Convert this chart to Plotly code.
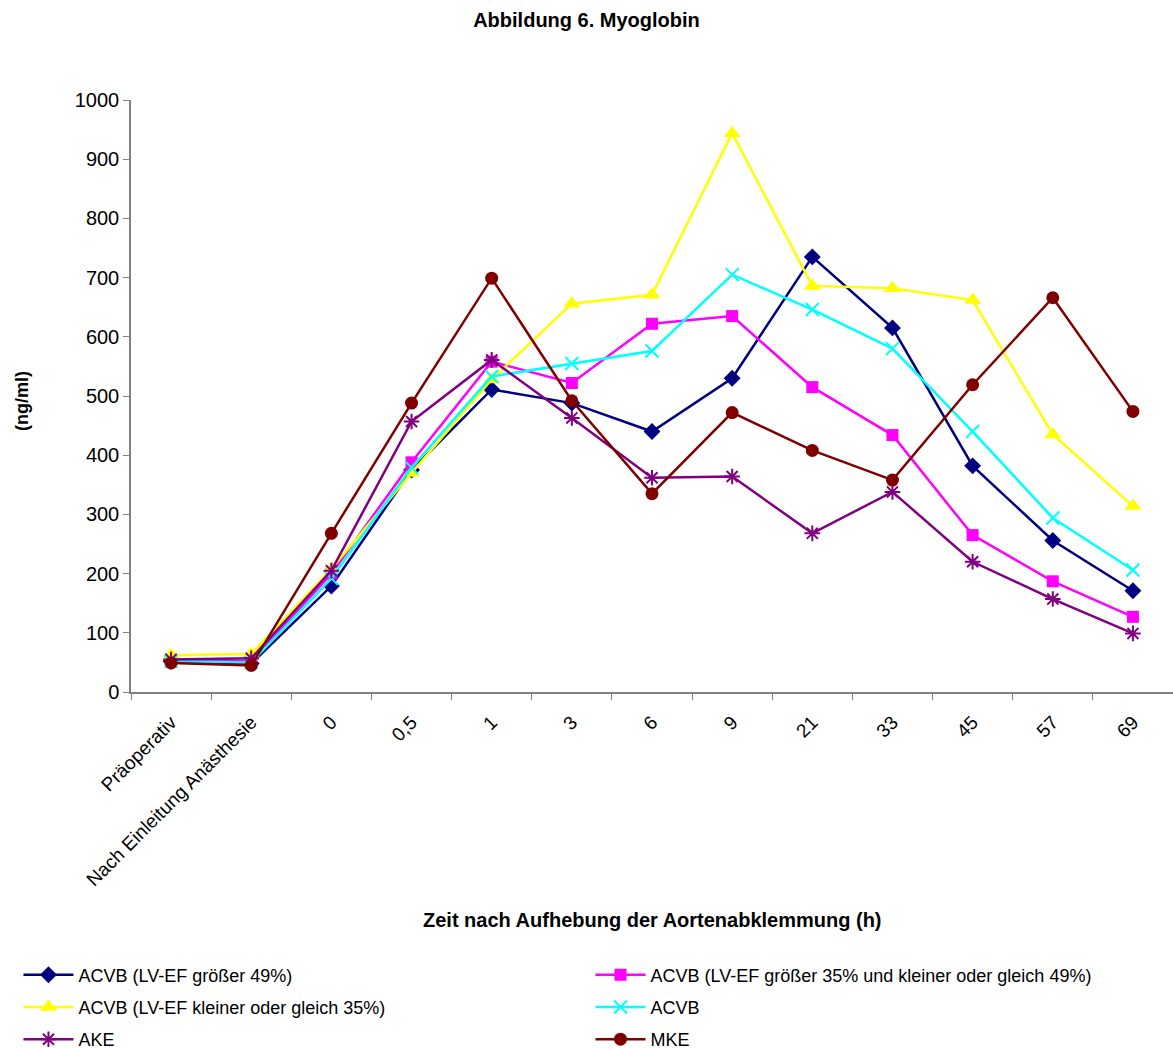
import plotly.graph_objects as go

# Messzeitpunkte (Kategorien der x-Achse)
zeitpunkte = ["Präoperativ", "Nach Einleitung Anästhesie", "0", "0,5", "1", "3", "6",
              "9", "21", "33", "45", "57", "69"]

# Myoglobin-Mittelwerte (ng/ml) je Gruppe
acvb_ef_gt49 = [52, 48, 179, 375, 511, 488, 440, 530, 735, 615, 382, 256, 171]
acvb_ef_35_49 = [55, 52, 200, 388, 558, 522, 622, 635, 515, 434, 265, 187, 127]
acvb_ef_le35 = [62, 64, 208, 370, 528, 656, 671, 944, 686, 682, 662, 435, 314]
acvb_gesamt = [52, 50, 192, 379, 533, 555, 576, 705, 646, 580, 440, 294, 206]
ake = [55, 57, 205, 457, 561, 463, 362, 364, 268, 338, 220, 157, 99]
mke = [49, 45, 268, 488, 699, 492, 335, 472, 408, 358, 519, 666, 474]

serien = [
    ("ACVB (LV-EF größer 49%)", acvb_ef_gt49, "#000080", "diamond", 13),
    ("ACVB (LV-EF größer 35% und kleiner oder gleich 49%)", acvb_ef_35_49, "#FF00FF", "square", 12),
    ("ACVB (LV-EF kleiner oder gleich 35%)", acvb_ef_le35, "#FFFF00", "triangle-up", 15),
    ("ACVB", acvb_gesamt, "#00FFFF", "x-thin-open", 13),
    ("AKE", ake, "#800080", "asterisk-open", 13),
    ("MKE", mke, "#800000", "circle", 13),
]

FONT = "Liberation Sans, Arial, sans-serif"

fig = go.Figure()
legend_layout = {}
for i, (name, werte, farbe, symbol, groesse) in enumerate(serien):
    offen = symbol.endswith("open")
    key = "legend" if i == 0 else f"legend{i + 1}"
    fig.add_trace(go.Scatter(
        x=zeitpunkte, y=werte, name=name, mode="lines+markers",
        line=dict(color=farbe, width=2.5),
        marker=dict(symbol=symbol, size=groesse, color=farbe,
                    line=dict(color=farbe, width=2 if offen else 0)),
        legend=key, showlegend=True,
    ))
    # Legende in zwei Spalten, drei Zeilen unter dem Diagramm
    spalte, zeile = i % 2, i // 2
    legend_layout[key] = dict(
        x=-0.108 + 0.549 * spalte, y=-0.478 - 0.0545 * zeile,
        xanchor="left", yanchor="middle", itemwidth=50,
        font=dict(family=FONT, size=18, color="black"),
        bgcolor="rgba(0,0,0,0)", visible=True,
    )

fig.update_layout(
    width=1173, height=1049, showlegend=True,
    margin=dict(l=131, r=0, t=100, b=357, autoexpand=False),
    paper_bgcolor="white", plot_bgcolor="white",
    font=dict(family=FONT, color="black"),
    title=dict(text="<b>Abbildung 6. Myoglobin</b>", x=0.5, xref="container", xanchor="center",
               y=0.981, yanchor="middle",
               font=dict(family=FONT, size=20, color="black")),
    xaxis=dict(
        type="category", range=[-0.5, 12.5], tickson="boundaries",
        showline=True, linecolor="#808080", linewidth=1.5,
        ticks="outside", ticklen=6, tickcolor="#808080",
        tickangle=-45, ticklabelstandoff=10,
        tickfont=dict(family=FONT, size=19, color="black"),
        showgrid=False, zeroline=False,
    ),
    yaxis=dict(
        range=[0, 1000], dtick=100, showline=True, linecolor="#808080", linewidth=1.5,
        ticks="outside", ticklen=6, tickcolor="#808080",
        tickfont=dict(family=FONT, size=20, color="black"),
        showgrid=False, zeroline=False,
    ),
    annotations=[
        dict(text="<b>Zeit nach Aufhebung der Aortenabklemmung (h)</b>", xref="paper", yref="paper",
             x=0.5, y=-0.385, xanchor="center", yanchor="middle", showarrow=False,
             font=dict(family=FONT, size=20, color="black")),
        dict(text="<b>(ng/ml)</b>", xref="paper", yref="paper", x=-0.1046, y=0.4916,
             xanchor="center", yanchor="middle", textangle=-90, showarrow=False,
             font=dict(family=FONT, size=18, color="black")),
    ],
    **legend_layout,
)

fig.write_html("out.html")
